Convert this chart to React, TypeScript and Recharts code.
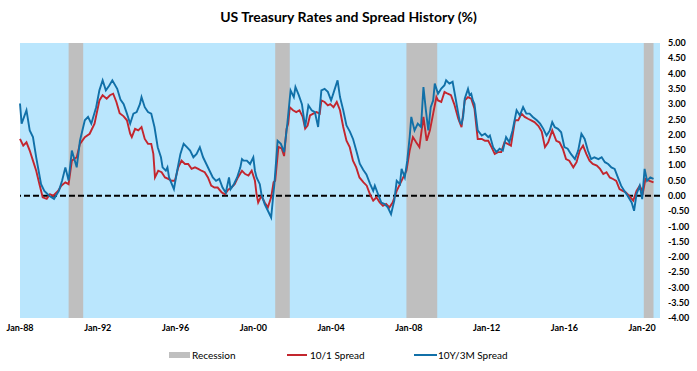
import React from "react";
import {
  ComposedChart,
  Line,
  XAxis,
  YAxis,
  CartesianGrid,
  ReferenceArea,
  ReferenceLine,
} from "recharts";

// months counted from Jan-1988
const xTicks = [0, 48, 96, 144, 192, 240, 288, 336, 384];
const xTickLabels = ["Jan-88", "Jan-92", "Jan-96", "Jan-00", "Jan-04", "Jan-08", "Jan-12", "Jan-16", "Jan-20"];
const yTicks = [-4, -3.5, -3, -2.5, -2, -1.5, -1, -0.5, 0, 0.5, 1, 1.5, 2, 2.5, 3, 3.5, 4, 4.5, 5];

const recessionStart = [30, 157.5, 238.5, 385];
const recessionEnd = [39, 166.5, 257.5, 391];

// 10/1 spread: [month, value]
const spread10y1y: [number, number][] = [
  [0, 1.86], [2, 1.64], [4, 1.75], [6, 1.48], [8, 1.15], [10, 0.82], [12, 0.38], [14, -0.05], [16.5, -0.1], [18.5, 0.05],
  [20.5, 0.0], [23.5, 0.16], [25.5, 0.33], [28, 0.44], [30, 0.38], [32, 1.15], [35, 1.26], [37, 1.7], [40, 1.92], [43, 2.03],
  [46, 2.36], [49, 3.12], [51, 3.29], [53.5, 3.18], [55.5, 3.29], [57.5, 3.34], [59.5, 3.07], [61.5, 2.7], [64, 2.6], [66, 2.47],
  [68, 2.03], [69, 1.92], [71, 2.19], [73, 2.14], [75, 2.25], [77, 1.86], [79, 1.7], [81, 1.7], [82.3, 1.37], [83.3, 0.6],
  [85.3, 0.82], [87.4, 0.77], [89.5, 0.6], [91.5, 0.55], [93.6, 0.49], [95.6, 0.49], [97.7, 0.93], [99.7, 1.15], [101.8, 1.04], [103.8, 1.04],
  [105.9, 0.88], [108, 0.93], [110, 0.88], [112, 0.82], [114, 0.77], [116, 0.6], [118, 0.33], [120, 0.27], [122, 0.27], [124.5, 0.11],
  [126.5, 0.05], [128.5, 0.2], [130.5, 0.27], [132.5, 0.38], [134.5, 0.6], [137, 0.82], [139, 0.71], [141, 0.66], [143, 0.82], [145, 0.49],
  [146, 0.05], [147, -0.22], [149, 0.0], [151, -0.22], [153, -0.38], [155, -0.05], [156.5, 0.44], [157.5, 0.49], [159.5, 1.6], [161.5, 1.55],
  [163, 1.3], [164.5, 2.19], [165.5, 2.36], [166.5, 2.9], [168.5, 2.8], [170.5, 2.74], [172.5, 2.8], [174.5, 2.58], [176, 2.2], [177.5, 2.3],
  [179, 2.63], [181, 2.69], [183, 2.74], [185, 2.69], [186, 3.12], [188, 3.07], [190, 2.96], [191.5, 3.0], [193.5, 2.9], [195.5, 3.07],
  [197.5, 2.8], [199.5, 2.25], [201.5, 1.8], [203.5, 1.59], [205.5, 1.15], [207.5, 0.93], [209.5, 0.6], [212, 0.44], [214, 0.33], [216, 0.05],
  [218, -0.16], [220, -0.05], [222, -0.22], [224, -0.33], [226, -0.27], [228, -0.38], [230, -0.22], [232.5, 0.16], [234.5, 0.38], [236.5, 0.6],
  [238.5, 0.82], [240.5, 1.48], [242.5, 1.92], [244.5, 1.75], [246.5, 1.59], [249, 2.58], [251, 1.8], [253, 2.14], [255, 2.69], [257, 3.23],
  [258, 3.12], [260, 3.07], [262, 3.4], [264, 3.34], [266, 3.29], [268, 3.0], [270.5, 2.52], [272.5, 2.25], [274.5, 3.12], [276.5, 3.23],
  [278.5, 3.18], [280.5, 2.85], [282.5, 1.86], [285, 1.86], [287, 1.8], [289, 1.8], [291, 1.59], [293, 1.37], [295, 1.43], [297, 1.43],
  [299, 1.75], [301, 1.7], [303, 1.64], [305.5, 2.47], [307.5, 2.47], [309.5, 2.69], [311.5, 2.58], [313.5, 2.52], [315.5, 2.47], [317.5, 2.41],
  [320, 2.28], [322, 2.1], [324, 1.59], [326, 1.75], [328.5, 2.14], [331, 1.8], [333, 1.75], [335, 1.54], [337, 1.2], [339, 1.15],
  [341.5, 0.93], [343.5, 1.1], [345.5, 1.48], [347.5, 1.64], [349.5, 1.37], [351.5, 1.15], [353.5, 1.04], [356, 0.99], [358, 0.88], [360, 0.71],
  [362, 0.77], [364, 0.6], [366, 0.55], [368, 0.49], [370, 0.22], [372, 0.16], [374, 0.11], [376, 0.0], [378.5, -0.16], [380.5, 0.16],
  [382.5, 0.33], [384.5, 0.11], [386, 0.55], [388.5, 0.49], [391, 0.44],
];

// 10Y/3M spread: [month, value]
const spread10y3m: [number, number][] = [
  [0, 3.02], [1, 2.36], [4, 2.8], [6, 2.14], [8, 1.92], [10, 1.26], [13, 0.38], [15, 0.16], [18, 0.0], [21, -0.1],
  [24, 0.16], [26, 0.5], [28, 0.93], [30, 0.5], [32, 1.48], [35, 0.93], [37, 1.8], [40, 2.47], [42, 2.58], [44, 2.36],
  [47, 2.9], [49, 3.45], [51, 3.78], [53, 3.45], [55, 3.6], [57, 3.78], [60, 3.5], [62, 3.15], [64, 3.0], [66, 2.69],
  [68, 2.36], [70, 2.69], [72, 2.74], [74, 3.0], [75, 3.23], [77, 2.9], [79, 2.74], [81, 2.69], [83, 2.25], [85, 1.59],
  [87, 1.26], [88, 0.93], [90, 0.82], [91, 0.93], [92, 0.6], [95, 0.22], [97, 0.82], [99, 1.37], [101, 1.7], [103, 1.59],
  [105, 1.48], [107, 1.26], [109, 1.37], [111, 1.59], [113, 1.26], [115, 1.04], [117, 0.82], [119, 0.6], [121, 0.49], [123, 0.55],
  [125, 0.27], [127, 0.1], [129, 0.6], [130, 0.22], [132, 0.38], [134, 0.6], [136, 0.93], [137, 1.2], [138, 1.15], [140, 1.15],
  [142, 1.04], [144, 1.26], [145, 0.82], [146, 0.6], [148, 0.38], [149, 0.05], [151, -0.27], [153, -0.49], [155, -0.71], [156, -0.16],
  [157, 0.38], [159, 1.8], [161, 1.7], [163, 1.43], [165, 2.36], [167, 3.45], [169, 3.23], [170, 3.56], [172, 3.3], [174, 3.0],
  [176, 2.25], [178, 2.96], [180, 2.8], [182, 2.74], [184, 2.25], [186, 3.45], [188, 3.5], [190, 3.4], [192, 3.12], [194, 3.45],
  [196, 3.78], [197.5, 3.23], [199.5, 2.8], [201.5, 2.3], [203.6, 2.1], [205.6, 1.85], [207.7, 1.45], [209.7, 1.05], [211.8, 0.85], [213.8, 0.7],
  [216, 0.4], [218, 0.16], [219, 0.33], [221, 0.05], [223, -0.22], [225, -0.27], [227, -0.38], [229, -0.6], [231, -0.16], [232.5, 0.49],
  [234.5, 0.38], [235.5, 0.88], [237.5, 0.6], [239, 1.15], [240.5, 1.92], [241.5, 2.58], [243.5, 2.14], [245.5, 2.36], [247.5, 2.25], [249, 3.56],
  [250.5, 2.8], [252, 2.14], [253.5, 2.9], [255, 3.12], [256, 3.67], [258, 3.34], [260, 3.51], [262, 3.62], [263, 3.78], [265, 3.67],
  [267, 3.73], [268.5, 3.29], [270.5, 2.69], [271.5, 2.41], [272.5, 2.36], [273.5, 2.58], [274.5, 3.18], [276.5, 3.5], [277.5, 3.29], [278.5, 3.34],
  [279.5, 3.12], [280.5, 3.0], [282.5, 2.14], [285, 1.97], [287, 2.03], [289, 1.92], [290, 1.97], [292, 1.59], [294, 1.43], [296, 1.54],
  [298, 1.48], [300, 1.92], [302, 1.75], [304, 2.14], [306.5, 2.8], [308.5, 2.63], [310.5, 2.9], [312.5, 2.69], [314.5, 2.69], [316.5, 2.58],
  [319, 2.47], [321, 2.36], [323, 2.19], [325, 1.97], [327, 2.14], [328.5, 2.41], [330, 2.25], [332, 2.19], [334, 2.08], [336, 1.59],
  [338, 1.54], [340, 1.37], [342.5, 1.2], [344.5, 1.48], [346.5, 2.03], [348.5, 1.86], [350.5, 1.48], [352.5, 1.2], [354.5, 1.26], [357, 1.2],
  [359, 1.26], [361, 1.1], [363, 1.04], [365, 0.93], [367, 0.88], [369, 0.6], [371, 0.33], [373, 0.16], [375, 0.0], [377.5, -0.22],
  [379, -0.49], [380.5, 0.05], [382.5, 0.33], [384, -0.11], [385.5, 0.88], [387, 0.49], [389, 0.6], [391, 0.55],
];

const FONT = "Lato, 'Open Sans', sans-serif";
const RED = "#C3262E";
const BLUE = "#1170A8";
const GRAY = "#BFBFBF";

const toPoints = (arr: [number, number][]) => arr.map(([m, v]) => ({ m, v }));

export default function App() {
  const redData = toPoints(spread10y1y);
  const blueData = toPoints(spread10y3m);

  return (
    <div style={{ position: "absolute", left: 0, top: 0, width: 697, height: 371, background: "#fff", fontFamily: FONT }}>
      <div
        style={{
          position: "absolute",
          top: 8,
          left: 0,
          width: 697,
          textAlign: "center",
          fontSize: 14,
          fontWeight: 700,
          color: "#000",
        }}
      >
        US Treasury Rates and Spread History (%)
      </div>
      <ComposedChart
        width={697}
        height={371}
        margin={{ top: 43, right: 0, bottom: 33, left: 20 }}
        style={{ position: "absolute", left: 0, top: 0 }}
      >
        <CartesianGrid fill="#BAE6FD" stroke="none" horizontal={false} vertical={false} />
        <XAxis
          dataKey="m"
          type="number"
          domain={[0, 395]}
          ticks={xTicks}
          tickFormatter={(v: number) => xTickLabels[xTicks.indexOf(v)]}
          axisLine={false}
          tickLine={false}
          tickSize={0}
          tickMargin={7}
          height={20}
          interval={0}
          allowDuplicatedCategory={false}
          tick={{ fontSize: 9, fontWeight: 700, fill: "#000", fontFamily: FONT }}
        />
        <YAxis
          orientation="right"
          type="number"
          domain={[-4, 5]}
          ticks={yTicks}
          interval={0}
          tickFormatter={(v: number) => v.toFixed(2)}
          axisLine={false}
          tickLine={false}
          tickSize={0}
          tickMargin={8}
          width={37}
          tick={{ fontSize: 9, fontWeight: 700, fill: "#000", fontFamily: FONT, textAnchor: "start" }}
        />
        {recessionStart.map((s, i) => (
          <ReferenceArea key={i} x1={s} x2={recessionEnd[i]} fill={GRAY} fillOpacity={1} stroke="none" ifOverflow="hidden" />
        ))}
        <ReferenceLine y={0} stroke="#000" strokeWidth={2} strokeDasharray="6 3" />
        <Line data={redData} dataKey="v" type="linear" stroke={RED} strokeWidth={1.9} dot={false} isAnimationActive={false} />
        <Line data={blueData} dataKey="v" type="linear" stroke={BLUE} strokeWidth={1.9} dot={false} isAnimationActive={false} />
      </ComposedChart>
      <div
        style={{
          position: "absolute",
          top: 348,
          left: 0,
          width: 697,
          height: 14,
          fontSize: 10,
          color: "#000",
        }}
      >
        <div style={{ position: "absolute", left: 169, top: 4, width: 21, height: 6, background: GRAY }} />
        <div style={{ position: "absolute", left: 192, top: 0, lineHeight: "14px" }}>Recession</div>
        <div style={{ position: "absolute", left: 287, top: 6, width: 20, height: 2, background: RED }} />
        <div style={{ position: "absolute", left: 310, top: 0, lineHeight: "14px" }}>10/1 Spread</div>
        <div style={{ position: "absolute", left: 414, top: 6, width: 23, height: 2, background: BLUE }} />
        <div style={{ position: "absolute", left: 438, top: 0, lineHeight: "14px" }}>10Y/3M Spread</div>
      </div>
    </div>
  );
}
